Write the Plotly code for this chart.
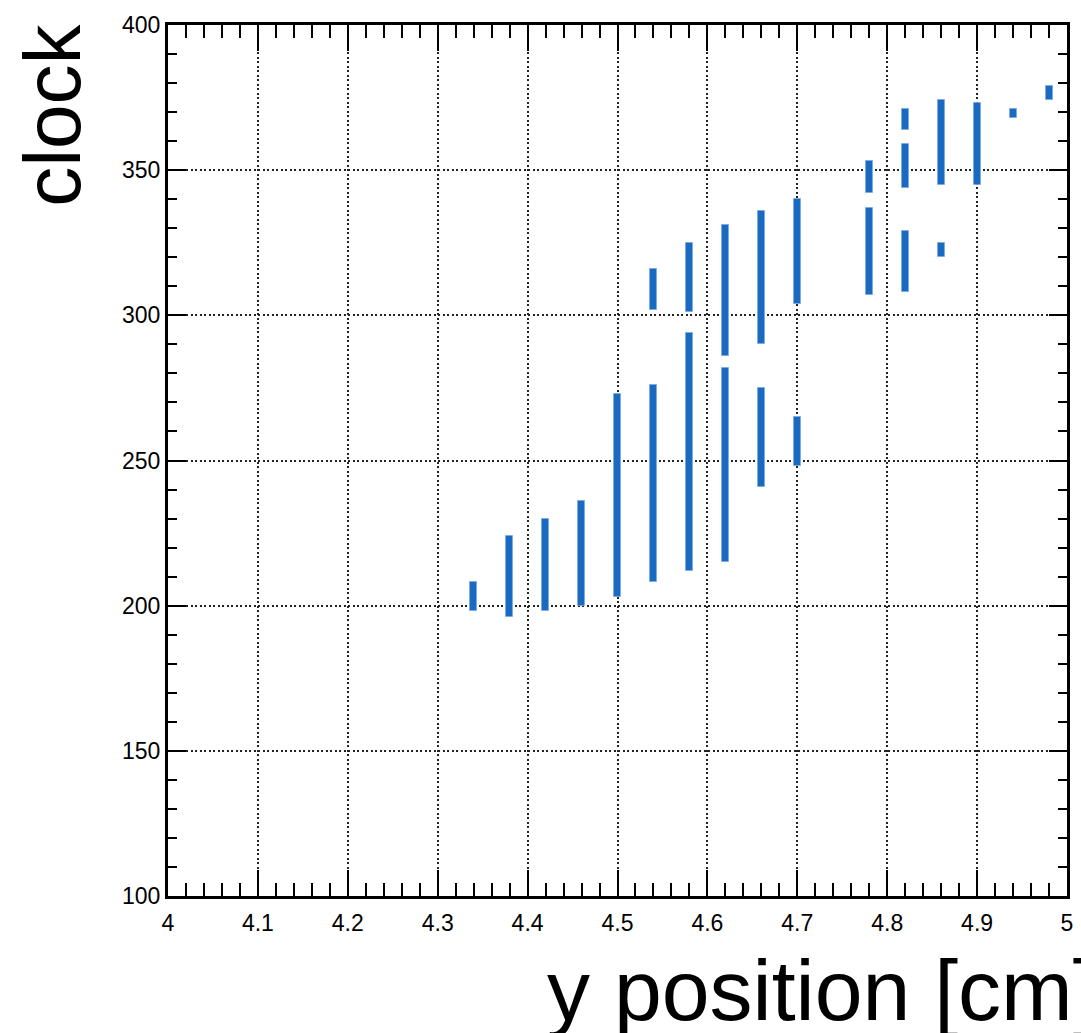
import plotly.graph_objects as go

# data: vertical segments (x position, lower clock, upper clock)
seg_x = [4.34, 4.38, 4.42, 4.46, 4.50, 4.54, 4.54, 4.58, 4.58, 4.62, 4.62,
         4.66, 4.66, 4.70, 4.70, 4.78, 4.78, 4.82, 4.82, 4.82, 4.86, 4.86,
         4.90, 4.94, 4.98]
seg_low = [198, 196, 198, 200, 203, 208, 302, 212, 301, 215, 286,
           241, 290, 248, 304, 307, 342, 308, 344, 364, 320, 345,
           345, 368, 374]
seg_high = [208, 224, 230, 236, 273, 276, 316, 294, 325, 282, 331,
            275, 336, 265, 340, 337, 353, 329, 359, 371, 325, 374,
            373, 371, 379]

x_ticks = [4.0, 4.1, 4.2, 4.3, 4.4, 4.5, 4.6, 4.7, 4.8, 4.9, 5.0]
x_labels = ["4", "4.1", "4.2", "4.3", "4.4", "4.5", "4.6", "4.7", "4.8", "4.9", "5"]
y_ticks = [100, 150, 200, 250, 300, 350, 400]

W, H = 1081, 1033
L, R, T, B = 168, 8, 25, 137

fig = go.Figure()
fig.add_trace(go.Bar(
    x=seg_x,
    y=[h - l for l, h in zip(seg_low, seg_high)],
    base=seg_low,
    width=0.0078,
    marker=dict(color="#1b6ac2", line=dict(color="rgba(120,170,225,0.8)", width=1)),
    showlegend=False,
    hoverinfo="skip",
))

tickfont = dict(family="Liberation Sans, Arial, sans-serif", size=23, color="black")
griddash = "2px,2.5px"
fig.update_layout(
    width=W, height=H,
    margin=dict(l=L, r=R, t=T, b=B, pad=0),
    paper_bgcolor="white", plot_bgcolor="white",
    bargap=0,
    xaxis=dict(
        range=[4.0, 5.0], tickvals=x_ticks, ticktext=x_labels,
        ticks="inside", ticklen=26, tickwidth=1.5, tickcolor="black",
        minor=dict(dtick=0.02, tick0=4.0, ticks="inside", ticklen=13,
                   tickwidth=1.5, tickcolor="black", showgrid=False),
        showline=True, linewidth=3, linecolor="black", mirror="ticks",
        showgrid=True, gridcolor="#222", gridwidth=1.6, griddash=griddash,
        zeroline=False, tickfont=tickfont, ticklabelstandoff=4,
    ),
    yaxis=dict(
        range=[100, 400], tickvals=y_ticks,
        ticks="inside", ticklen=18, tickwidth=1.5, tickcolor="black",
        minor=dict(dtick=10, tick0=100, ticks="inside", ticklen=9,
                   tickwidth=1.5, tickcolor="black", showgrid=False),
        showline=True, linewidth=3, linecolor="black", mirror="ticks",
        showgrid=True, gridcolor="#222", gridwidth=1.6, griddash=griddash,
        zeroline=False, tickfont=tickfont, ticklabelstandoff=0,
    ),
)

pw = W - L - R
ph = H - T - B
fig.add_annotation(
    text="y position [cm]", showarrow=False,
    xref="paper", yref="paper",
    x=(548 - L) / pw, xanchor="left",
    y=-(1040 - (H - B)) / ph, yanchor="bottom",
    font=dict(family="Liberation Sans, Arial, sans-serif", size=86, color="black"),
)
fig.add_annotation(
    text="clock", showarrow=False, textangle=-90,
    xref="paper", yref="paper",
    x=(52 - L) / pw, xanchor="center",
    y=(H - B - 115) / ph, yanchor="middle",
    font=dict(family="Liberation Sans, Arial, sans-serif", size=80, color="black"),
)

fig.write_html("out.html")
